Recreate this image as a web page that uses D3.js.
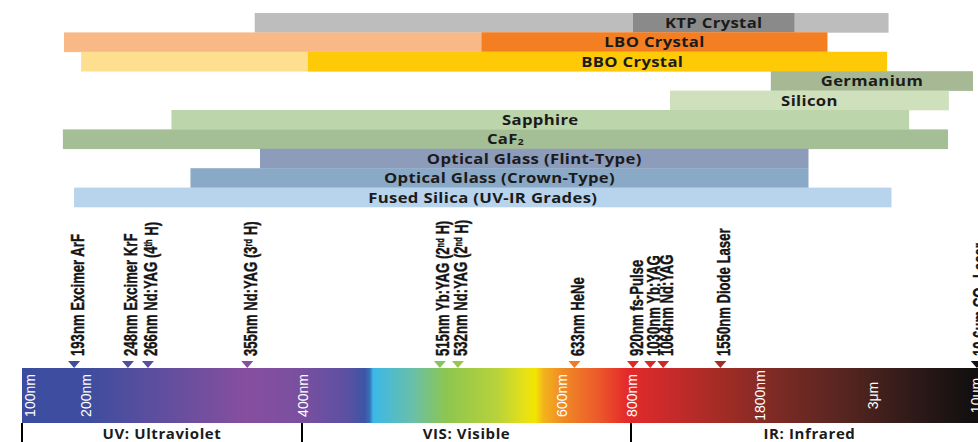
<!DOCTYPE html>
<html>
<head>
<meta charset="utf-8">
<script src="https://cdn.jsdelivr.net/npm/d3@7/dist/d3.min.js"></script>
<style>
  html, body { margin: 0; padding: 0; background: #ffffff; overflow: hidden; }
  svg { display: block; }
</style>
</head>
<body>
<svg id="chart" width="978" height="442"></svg>
<script>
// ---------------- DATA ----------------
const materials = [
  "KTP Crystal", "LBO Crystal", "BBO Crystal", "Germanium", "Silicon",
  "Sapphire", "CaF₂", "Optical Glass (Flint-Type)", "Optical Glass (Crown-Type)",
  "Fused Silica (UV-IR Grades)"
];
// full transmission range (nm)
const rangeStartNm = [362, 175, 203, 2000, 1090, 287, 173, 367, 304, 193];
const rangeEndNm   = [4600, 2600, 4500, 10340, 8700, 6000, 8640, 2400, 2400, 4800];
// highlighted (core) range for crystals, nm
const coreStartNm  = [920, 553, 410, null, null, null, null, null, null, null];
const coreEndNm    = [2250, 2600, 4500, null, null, null, null, null, null, null];
const labelAtNm    = [null, null, 915, null, null, null, null, null, null, null];

const laserNm = [193, 248, 266, 355, 515, 532, 633, 920, 1030, 1064, 1550, 10600];
const laserLabels = [
  "193nm Excimer ArF", "248nm Excimer KrF", "266nm Nd:YAG (4^th H)", "355nm Nd:YAG (3^rd H)",
  "515nm Yb:YAG (2^nd H)", "532nm Nd:YAG (2^nd H)", "633nm HeNe", "920nm fs-Pulse",
  "1030nm Yb:YAG", "1064nm Nd:YAG", "1550nm Diode Laser", "10.6μm CO₂ Laser"
];

const tickNm = [100, 200, 400, 600, 800, 1800, 3000, 10000];
const tickLabels = ["100nm", "200nm", "400nm", "600nm", "800nm", "1800nm", "3μm", "10μm"];

const regionNames = ["UV: Ultraviolet", "VIS: Visible", "IR: Infrared"];
const regionStartNm = [100, 400, 800];

// spectrum colour stops (nm -> colour)
const spectrumNm = [100, 211, 355, 404, 440, 454, 458, 460.5, 491.5, 521, 563, 582, 588, 593, 614.5, 696, 850, 1069, 1490, 2097, 2809, 6262, 10340];
const spectrumColors = ["#3b4c9f", "#3f4d9f", "#874f9e", "#7a4fa0", "#5c50a2", "#3d55a6", "#3670b8", "#3bb8e8",
  "#6abfa8", "#8cc650", "#b8d23a", "#e8e215", "#f2e600", "#f3b41c", "#f08a25", "#ec5b2a", "#e42a2a",
  "#cb2a2a", "#a82c26", "#7a2a24", "#552520", "#2e1a18", "#120f10"];

// ---------------- LAYOUT / STYLE ----------------
const svg = d3.select("#chart");

// non-uniform wavelength axis (piecewise linear calibration of the original graphic)
const x = d3.scaleLinear()
  .domain([100, 200, 250, 350, 400, 500, 550, 600, 650, 800, 900, 1000, 1040, 1070, 1100, 1500, 1800, 3000, 10000])
  .range([22, 78, 130, 242, 295, 424, 477, 554, 585, 624, 630, 645, 652, 666, 672, 714, 752, 865, 968]);

const y = d3.scaleBand().domain(materials).range([13, 207]).padding(0);

const lightColors = ["#bebdbe", "#f9b986", "#fedf8f", "#a6b994", "#cfe0bc", "#bdd5aa", "#a4bf95", "#8d9cbb", "#8aa9c6", "#b8d3ec"];
const darkColors  = ["#8a8a8a", "#f47f22", "#fec907", null, null, null, null, null, null, null];

const labelFont = "'Open Sans', Lato, sans-serif";

// material bars
const rows = svg.append("g").selectAll("g").data(materials).join("g");
rows.append("rect")
  .attr("x", (d, i) => x(rangeStartNm[i]))
  .attr("y", d => y(d))
  .attr("width", (d, i) => x(rangeEndNm[i]) - x(rangeStartNm[i]))
  .attr("height", y.bandwidth() + 0.3)
  .attr("fill", (d, i) => lightColors[i]);
rows.filter((d, i) => coreStartNm[i] != null).append("rect")
  .attr("x", d => x(coreStartNm[materials.indexOf(d)]))
  .attr("y", d => y(d))
  .attr("width", d => { const i = materials.indexOf(d); return x(coreEndNm[i]) - x(coreStartNm[i]); })
  .attr("height", y.bandwidth() + 0.3)
  .attr("fill", d => darkColors[materials.indexOf(d)]);
rows.append("text")
  .attr("transform", (d, i) => {
    let cx;
    if (labelAtNm[i] != null) cx = x(labelAtNm[i]);
    else if (coreStartNm[i] != null) cx = (x(coreStartNm[i]) + x(coreEndNm[i])) / 2;
    else cx = (x(rangeStartNm[i]) + x(rangeEndNm[i])) / 2;
    return `translate(${cx},${y(d) + y.bandwidth() / 2}) scale(1.15,1)`;
  })
  .attr("dy", "0.36em")
  .attr("text-anchor", "middle")
  .attr("font-family", labelFont)
  .attr("font-weight", "bold")
  .attr("font-size", 14.5)
  .attr("letter-spacing", 0.3)
  .attr("fill", "#1b1b1b")
  .each(function(d) {
    const t = d3.select(this);
    if (d.includes("₂")) {
      const parts = d.split("₂");
      t.append("tspan").text(parts[0]);
      t.append("tspan").attr("font-size", 9).attr("dy", "0.12em").text("2");
    } else t.text(d);
  });

// spectrum bar
const barTop = 368, barBottom = 423;
const gx1 = x(100), gx2 = x(11000);
const defs = svg.append("defs");
const grad = defs.append("linearGradient").attr("id", "spec")
  .attr("gradientUnits", "userSpaceOnUse")
  .attr("x1", gx1).attr("x2", gx2).attr("y1", 0).attr("y2", 0);
grad.selectAll("stop").data(spectrumNm).join("stop")
  .attr("offset", d => (x(d) - gx1) / (gx2 - gx1))
  .attr("stop-color", (d, i) => spectrumColors[i]);
svg.append("rect")
  .attr("x", gx1).attr("y", barTop)
  .attr("width", gx2 - gx1).attr("height", barBottom - barTop)
  .attr("fill", "url(#spec)");

const colorAt = d3.scaleLinear().domain(spectrumNm.map(d => x(d))).range(spectrumColors)
  .interpolate(d3.interpolateRgb).clamp(true);

// tick labels on spectrum
const tickOffset = 8;
svg.append("g").selectAll("text").data(tickNm).join("text")
  .attr("transform", d => `translate(${x(d) + tickOffset},${(barTop + barBottom) / 2}) rotate(-90)`)
  .attr("dy", "0.36em")
  .attr("text-anchor", "middle")
  .attr("font-family", "'Liberation Sans', Arial, sans-serif")
  .attr("font-size", 14)
  .attr("fill", "#ffffff")
  .text((d, i) => tickLabels[i]);

// laser markers
const lasers = svg.append("g").selectAll("g").data(laserNm).join("g");
lasers.append("path")
  .attr("d", d => { const px = x(d); return `M${px - 6},${barTop - 7}L${px + 6},${barTop - 7}L${px},${barTop}Z`; })
  .attr("fill", d => d > 10000 ? "#111111" : colorAt(x(d)));
lasers.append("text")
  .attr("transform", d => `translate(${x(d) + 9.5},356) rotate(-90) scale(0.75,1)`)
  .attr("font-family", "'Liberation Sans', Arial, sans-serif")
  .attr("font-weight", "bold")
  .attr("font-size", 17.5)
  .attr("fill", "#141414")
  .attr("stroke", "#141414")
  .attr("stroke-width", 0.4)
  .each(function(d, i) {
    const t = d3.select(this);
    const s = laserLabels[i];
    const m = s.match(/^(.*)\^(\w+)(.*)$/);
    if (m) {
      t.append("tspan").text(m[1]);
      t.append("tspan").attr("font-size", 10).attr("dy", "-0.5em").text(m[2]);
      t.append("tspan").attr("dy", "0.29em").text(m[3]);
    } else t.text(s);
  });

// regions
const reg = svg.append("g");
const boundaryX = (nm, i) => i === 0 ? x(nm) : x(nm) + 7;
reg.selectAll("line").data(regionStartNm).join("line")
  .attr("x1", (d, i) => boundaryX(d, i)).attr("x2", (d, i) => boundaryX(d, i))
  .attr("y1", barBottom).attr("y2", 442)
  .attr("stroke", "#000").attr("stroke-width", 2);
reg.selectAll("text").data(regionNames).join("text")
  .attr("x", (d, i) => {
    if (i === 2) return (boundaryX(regionStartNm[i], i) + 988) / 2;
    return (boundaryX(regionStartNm[i], i) + boundaryX(regionStartNm[i + 1], i + 1)) / 2;
  })
  .attr("y", 439)
  .attr("text-anchor", "middle")
  .attr("font-family", labelFont)
  .attr("font-weight", "bold")
  .attr("font-size", 15)
  .attr("letter-spacing", 0.6)
  .attr("fill", "#1b1b1b")
  .text(d => d);
</script>
</body>
</html>
